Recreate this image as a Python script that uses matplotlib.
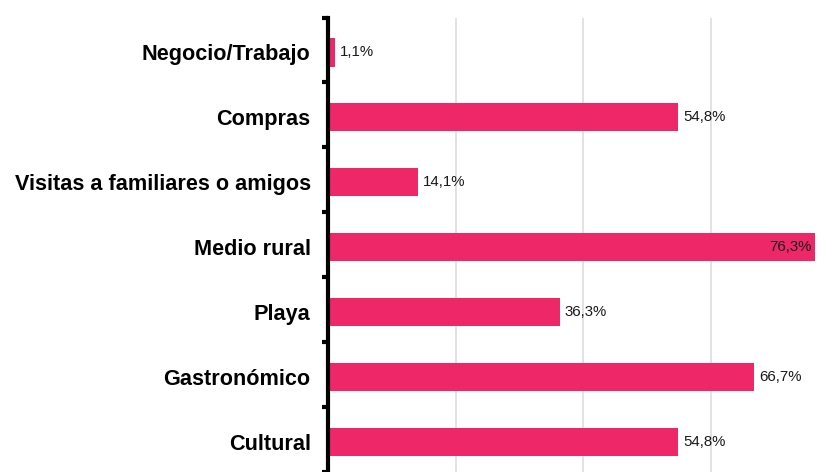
import matplotlib
matplotlib.use("Agg")
import matplotlib.pyplot as plt
import numpy as np

plt.rcParams['font.family'] = ['Liberation Sans', 'DejaVu Sans']

categories = ["Negocio/Trabajo", "Compras", "Visitas a familiares o amigos",
              "Medio rural", "Playa", "Gastronómico", "Cultural"]
values = [1.1, 54.8, 14.1, 76.3, 36.3, 66.7, 54.8]
labels = ["1,1%", "54,8%", "14,1%", "76,3%", "36,3%", "66,7%", "54,8%"]

bar_color = "#EE2769"

fig = plt.figure(figsize=(8.28, 4.72), dpi=100)
ax = fig.add_axes([328/828, 0.0, 1 - 328/828, 1 - 17.5/472])

y = np.arange(len(categories))
# bars sit a touch below the category centre in the original
ax.barh(y + 0.035, values, height=0.44, color=bar_color, zorder=2)

ax.set_xlim(0, 78.3)
ax.set_ylim(len(categories) - 0.5, -0.5)

ax.set_xticks([20, 40, 60])
ax.xaxis.grid(True, color="#dddddd", linewidth=1.2, zorder=0)
ax.tick_params(axis="x", length=0, labelbottom=False)

ax.set_yticks(y + 0.035)
ax.set_yticklabels(categories, fontsize=15.6, fontweight="bold")
ax.tick_params(axis="y", length=0, pad=12.5)
ax.set_yticks(np.arange(len(categories) + 1) - 0.5, minor=True)
ax.tick_params(axis="y", which="minor", length=4, width=3, color="black")

for s in ["top", "right", "bottom"]:
    ax.spines[s].set_visible(False)
ax.spines["left"].set_linewidth(3)
ax.spines["left"].set_color("black")

for yi, v, lab in zip(y + 0.035, values, labels):
    if v > 70:
        ax.text(v - 0.6, yi, lab, ha="right", va="center", fontsize=10.8, color="#1a1a1a", zorder=3)
    else:
        ax.text(v + 0.8, yi, lab, ha="left", va="center", fontsize=10.8, color="#1a1a1a", zorder=3)

fig.savefig("out.png", dpi=100)
